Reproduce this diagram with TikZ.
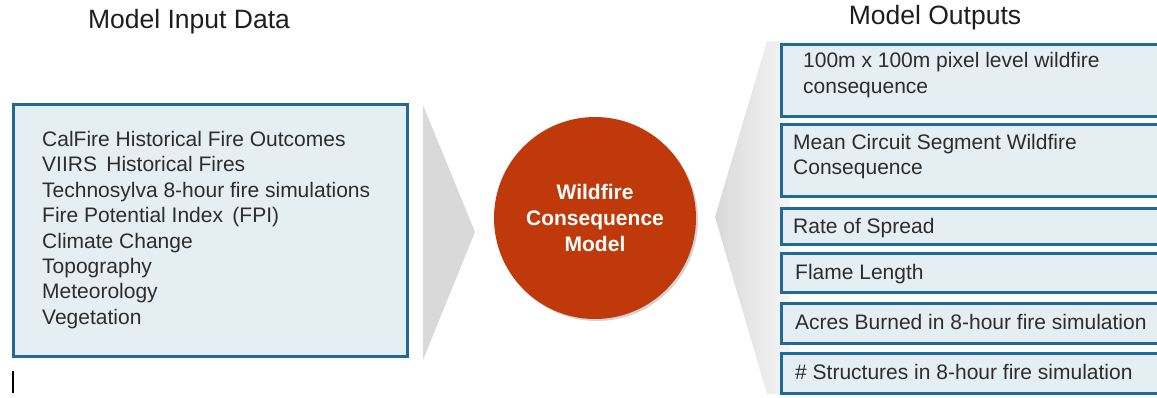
\documentclass[tikz,border=0pt]{standalone}
\usepackage{fontspec}
\setmainfont{Liberation Sans}
\usetikzlibrary{shadows}
\definecolor{boxline}{HTML}{1F6A97}
\definecolor{boxfill}{HTML}{E5EEF3}
\definecolor{txtcol}{HTML}{2D2D2D}
\definecolor{titlecol}{HTML}{1E1E1E}
\definecolor{chev}{HTML}{D9D9D9}
\definecolor{core}{HTML}{C0390B}
\tikzset{
  inbox/.style={draw=boxline, line width=3pt, fill=boxfill, rectangle, inner sep=0pt},
  outbox/.style={draw=boxline, line width=3.2pt, fill=boxfill, rectangle, inner sep=0pt, anchor=north west},
  txt/.style={text=txtcol, font=\fontsize{21}{25.4}\selectfont, align=left, inner sep=0pt, anchor=west},
  ttl/.style={text=titlecol, font=\fontsize{26.5}{30}\selectfont, inner sep=0pt},
  coremodel/.style={circle, fill=core, minimum size=202pt, inner sep=0pt, text=white, align=center,
     font=\bfseries\fontsize{21}{26}\selectfont,
     drop shadow={opacity=0.35, shadow xshift=2pt, shadow yshift=-2pt}}
}
\begin{document}
\begin{tikzpicture}[x=1pt,y=-1pt]
\useasboundingbox (0,0) rectangle (1157,397);
% titles
\node[ttl] (tin) at (189,22) {Model Input Data};
\node[ttl] (tout) at (935,18) {Model Outputs};
% chevrons
\fill[chev] (423,105) -- (475,232) -- (423,360) -- cycle;
\shade[left color=chev, right color=chev!25] (715,217) -- (767,41) -- (790,41) -- (790,394) -- (767,394) -- cycle;
% input box
\node[inbox, minimum width=394pt, minimum height=252pt, anchor=north west] (inp) at (12,103) {};
\node[txt] (inlist) at (42,230) {CalFire Historical Fire Outcomes\\VIIRS\, Historical Fires\\Technosylva 8-hour fire simulations\\Fire Potential Index\, (FPI)\\Climate Change\\Topography\\Meteorology\\Vegetation};
\draw[line width=1.5pt, black] (13,371) -- (13,393);
% core
\node[coremodel] (model) at (595,218) {Wildfire\\Consequence\\Model};
% output boxes
\node[outbox, minimum width=420pt, minimum height=72pt] (b1) at (780,43) {};
\node[outbox, minimum width=420pt, minimum height=72pt] (b2) at (780,123) {};
\node[outbox, minimum width=420pt, minimum height=36pt] (b3) at (780,207) {};
\node[outbox, minimum width=420pt, minimum height=39pt] (b4) at (780,252) {};
\node[outbox, minimum width=420pt, minimum height=40pt] (b5) at (780,302) {};
\node[outbox, minimum width=420pt, minimum height=40pt] (b6) at (780,352) {};
\node[txt, font=\fontsize{21}{26}\selectfont] (o1) at (803,75) {100m x 100m pixel level wildfire\\consequence};
\node[txt, font=\fontsize{21}{25}\selectfont] (o2) at (793,157) {Mean Circuit Segment Wildfire\\Consequence};
\node[txt] (o3) at (793,228) {Rate of Spread};
\node[txt] (o4) at (795,274) {Flame Length};
\node[txt] (o5) at (795,322) {Acres Burned in 8-hour fire simulation};
\node[txt] (o6) at (795,372) {\# Structures in 8-hour fire simulation};
\end{tikzpicture}
\end{document}
